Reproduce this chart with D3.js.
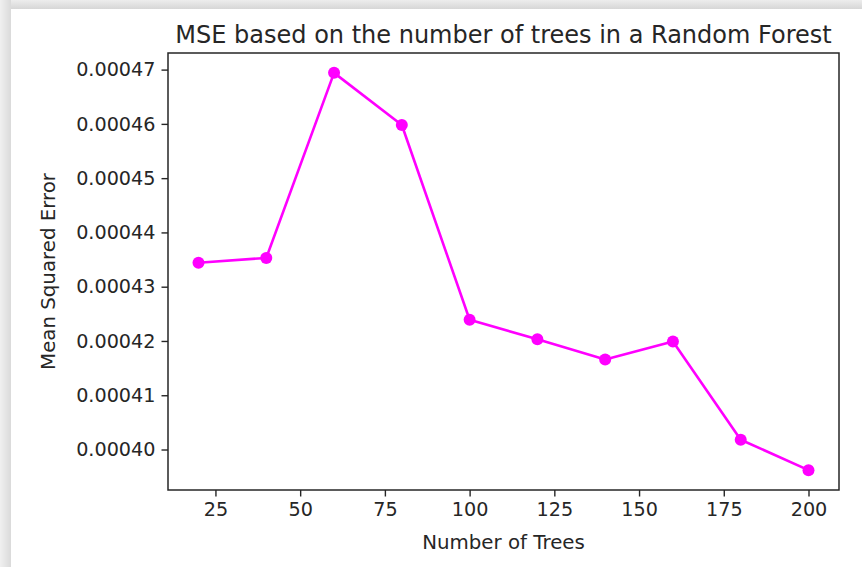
<!DOCTYPE html>
<html>
<head>
<meta charset="utf-8">
<script src="https://cdn.jsdelivr.net/npm/d3@7"></script>
<style>
  body { margin: 0; background: #fff; }
  svg { display: block; font-family: "DejaVu Sans", sans-serif; }
</style>
</head>
<body>
<svg id="chart" width="862" height="567"></svg>
<script>
// number of trees vs MSE
const trees = [20, 40, 60, 80, 100, 120, 140, 160, 180, 200];
const mse = [0.0004344, 0.0004353, 0.0004694, 0.0004598, 0.0004239,
             0.0004203, 0.0004166, 0.0004199, 0.0004018, 0.0003962];
const xTicks = [25, 50, 75, 100, 125, 150, 175, 200];
const yTicks = [0.00040, 0.00041, 0.00042, 0.00043, 0.00044, 0.00045, 0.00046, 0.00047];

const W = 862, H = 567;
const margin = {left: 168, right: 23, top: 53, bottom: 77};
const svg = d3.select("#chart");

// screenshot frame: grey strips at top and left
const defs = svg.append("defs");
const gTop = defs.append("linearGradient").attr("id", "gTop")
    .attr("x1", "0%").attr("y1", "0%").attr("x2", "0%").attr("y2", "100%");
gTop.append("stop").attr("offset", "0%").attr("stop-color", "#ededed");
gTop.append("stop").attr("offset", "100%").attr("stop-color", "#d6d6d6");
const gLeft = defs.append("linearGradient").attr("id", "gLeft")
    .attr("x1", "0%").attr("y1", "0%").attr("x2", "100%").attr("y2", "0%");
gLeft.append("stop").attr("offset", "0%").attr("stop-color", "#f0f0f0");
gLeft.append("stop").attr("offset", "100%").attr("stop-color", "#dadada");

svg.append("rect").attr("width", W).attr("height", H).attr("fill", "#fff");
svg.append("rect").attr("x", 0).attr("y", 0).attr("width", W).attr("height", 9)
    .attr("fill", "url(#gTop)");
svg.append("rect").attr("x", 0).attr("y", 0).attr("width", 11).attr("height", H)
    .attr("fill", "url(#gLeft)");

// matplotlib style 5% margins
const xPad = (d3.max(trees) - d3.min(trees)) * 0.05;
const yPad = (d3.max(mse) - d3.min(mse)) * 0.05;
const x = d3.scaleLinear()
    .domain([d3.min(trees) - xPad, d3.max(trees) + xPad])
    .range([margin.left, W - margin.right]);
const y = d3.scaleLinear()
    .domain([d3.min(mse) - yPad, d3.max(mse) + yPad])
    .range([H - margin.bottom, margin.top]);

const tickColor = "#262626";

const xAxis = svg.append("g")
    .attr("transform", `translate(0,${H - margin.bottom})`)
    .call(d3.axisBottom(x).tickValues(xTicks).tickSize(6.5).tickPadding(6).tickSizeOuter(0));
const yAxis = svg.append("g")
    .attr("transform", `translate(${margin.left},0)`)
    .call(d3.axisLeft(y).tickValues(yTicks).tickFormat(d3.format(".5f"))
        .tickSize(6.5).tickPadding(6).tickSizeOuter(0));

[xAxis, yAxis].forEach(a => {
    a.select(".domain").remove();
    a.selectAll(".tick line").attr("stroke", tickColor).attr("stroke-width", 1.4);
    a.selectAll(".tick text").attr("fill", tickColor)
        .style("font-size", "19.2px").style("font-family", "'DejaVu Sans'");
});

// frame around the axes
svg.append("rect")
    .attr("x", margin.left).attr("y", margin.top)
    .attr("width", W - margin.left - margin.right)
    .attr("height", H - margin.top - margin.bottom)
    .attr("fill", "none").attr("stroke", tickColor).attr("stroke-width", 1.5);

// line + markers
svg.append("path")
    .datum(trees.map((t, i) => [t, mse[i]]))
    .attr("fill", "none")
    .attr("stroke", "#ff00ff")
    .attr("stroke-width", 2.6)
    .attr("stroke-linejoin", "round")
    .attr("d", d3.line().x(d => x(d[0])).y(d => y(d[1])));

svg.selectAll("circle.pt")
    .data(trees)
    .enter().append("circle")
    .attr("class", "pt")
    .attr("cx", d => x(d))
    .attr("cy", (d, i) => y(mse[i]))
    .attr("r", 6)
    .attr("fill", "#ff00ff");

// title and axis labels
const cx = (margin.left + W - margin.right) / 2;
svg.append("text")
    .attr("x", cx).attr("y", 43)
    .attr("text-anchor", "middle")
    .attr("fill", tickColor)
    .style("font-size", "24px")
    .text("MSE based on the number of trees in a Random Forest");

svg.append("text")
    .attr("x", cx).attr("y", 549)
    .attr("text-anchor", "middle")
    .attr("fill", tickColor)
    .style("font-size", "19.8px")
    .text("Number of Trees");

svg.append("text")
    .attr("transform", `translate(55,${(margin.top + H - margin.bottom) / 2}) rotate(-90)`)
    .attr("text-anchor", "middle")
    .attr("fill", tickColor)
    .style("font-size", "19.8px")
    .text("Mean Squared Error");
</script>
</body>
</html>
